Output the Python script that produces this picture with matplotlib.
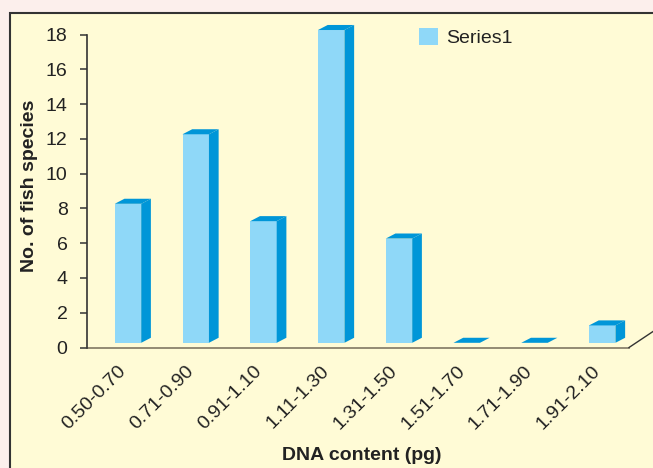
import matplotlib
matplotlib.use('Agg')
import matplotlib.pyplot as plt
from matplotlib.patches import Polygon, Rectangle, Patch

plt.rcParams['font.family'] = ['Liberation Sans', 'DejaVu Sans']

# data
categories = ['0.50-0.70', '0.71-0.90', '0.91-1.10', '1.11-1.30',
              '1.31-1.50', '1.51-1.70', '1.71-1.90', '1.91-2.10']
counts = [8, 12, 7, 18, 6, 0, 0, 1]
series_name = 'Series1'

front_col = '#8fd8f8'
side_col = '#0096d8'
txt_col = '#222222'

W, H = 653, 468
fig = plt.figure(figsize=(W / 100, H / 100), dpi=100)
fig.patch.set_facecolor('#fcefec')

# cream panel with dark border
fig.patches.append(Rectangle((10 / W, -0.1), 1.2, 1.1 - 13.3 / H,
                             transform=fig.transFigure, facecolor='#fffbd6',
                             edgecolor='#333333', lw=1.5, zorder=-5))

ax = fig.add_axes([87 / W, 1 - 347.5 / H, 542 / W, (347.5 - 34.7) / H])
ax.set_facecolor('none')
ax.set_xlim(0, len(categories))
ax.set_ylim(0, 18)

# fake 3d columns
base = 0.27
bw = 0.39
off = 0.41
dx = 0.143
dy = 0.29
for i, v in enumerate(counts):
    x0 = i + off
    x1 = x0 + bw
    top = base + v
    if v > 0:
        ax.bar(x0, v, width=bw, bottom=base, align='edge', color=front_col,
               lw=0, zorder=3, clip_on=False)
        ax.add_patch(Polygon([(x1, base), (x1 + dx, base + dy),
                              (x1 + dx, top + dy), (x1, top)], closed=True,
                             facecolor=side_col, lw=0, zorder=3, clip_on=False))
    ax.add_patch(Polygon([(x0, top), (x0 + dx, top + dy),
                          (x1 + dx, top + dy), (x1, top)], closed=True,
                         facecolor=side_col, lw=0, zorder=3, clip_on=False))

# floor edges
ax.plot([0, len(categories)], [0, 0], color='#8a826c', lw=1.3, clip_on=False, zorder=2)
ax.plot([len(categories), len(categories) + 0.6], [0, 0.92 / 0.354 * 0.6],
        color='#333333', lw=1.0, clip_on=False, zorder=2)

for s in ['top', 'right', 'bottom']:
    ax.spines[s].set_visible(False)
ax.spines['left'].set_color('#333333')
ax.spines['left'].set_linewidth(1.2)

ax.set_yticks(range(0, 19, 2))
ax.tick_params(axis='y', length=5, width=1.1, color='#333333', pad=9,
               labelsize=14, labelcolor=txt_col)
ax.set_xticks([i + 0.45 for i in range(len(categories))])
ax.set_xticklabels(categories, rotation=45, ha='right', va='top',
                   rotation_mode='anchor')
ax.tick_params(axis='x', length=0, pad=11, labelsize=14, labelcolor=txt_col)

fig.text(30 / W, 1 - 186 / H, 'No. of fish species', rotation=90,
         ha='center', va='center', fontsize=14, fontweight='bold', color=txt_col)
fig.text(362 / W, 1 - 455 / H, 'DNA content (pg)', ha='center', va='center',
         fontsize=14, fontweight='bold', color=txt_col)

fig.legend(handles=[Patch(facecolor=front_col, edgecolor='none', label=series_name)],
           loc='upper left', bbox_to_anchor=(419 / W, 1 - 28 / H),
           frameon=False, fontsize=14, handlelength=1.0, handleheight=0.95,
           handletextpad=0.4, borderpad=0, borderaxespad=0, labelcolor=txt_col)

fig.savefig('out.png', dpi=100, facecolor=fig.get_facecolor())
